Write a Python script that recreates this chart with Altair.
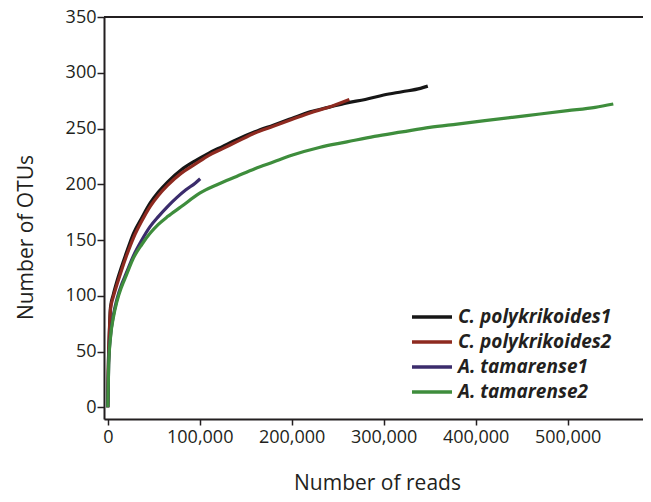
import altair as alt
import pandas as pd

names = ["C. polykrikoides1", "C. polykrikoides2", "A. tamarense1", "A. tamarense2"]
colors = ["#161616", "#8e2a20", "#3b2c6c", "#3e8d3c"]

cp1_x = [0, 500, 1500, 3000, 6000, 10000, 15000, 20000, 28000, 37000, 46000, 55000, 65000, 80000, 95000,
         110000, 125000, 140000, 160000, 180000, 200000, 220000, 240000, 260000, 280000, 300000, 320000, 340000, 348000]
cp1_y = [0, 32, 62, 90, 101, 113, 126, 138, 156, 170, 183, 193, 202, 213, 221,
         228, 234, 240, 247, 253, 259, 265, 269, 273, 276, 280, 283, 286, 288]

cp2_x = [0, 500, 1500, 3000, 6000, 10000, 15000, 20000, 28000, 37000, 46000, 55000, 65000, 80000, 95000,
         110000, 125000, 140000, 160000, 180000, 200000, 220000, 240000, 262700]
cp2_y = [0, 30, 60, 88, 99, 110, 123, 135, 152, 167, 180, 190, 199, 210, 218,
         226, 232, 238, 246, 252, 258, 264, 269, 276]

at1_x = [0, 1000, 3000, 6000, 10000, 15000, 20000, 28000, 37000, 46000, 55000, 65000, 75000, 85000, 95000, 100500]
at1_y = [0, 40, 64, 82, 97, 110, 120, 136, 150, 162, 171, 180, 188, 195, 201, 205]

at2_x = [0, 1000, 3000, 6000, 10000, 15000, 20000, 28000, 37000, 46000, 55000, 65000, 80000, 100000, 120000,
         140000, 160000, 180000, 200000, 230000, 260000, 290000, 320000, 350000, 380000, 410000, 440000,
         470000, 500000, 530000, 549700]
at2_y = [0, 38, 63, 80, 95, 108, 118, 134, 146, 156, 164, 171, 180, 192, 200,
         207, 214, 220, 226, 233, 238, 243, 247, 251, 254, 257, 260, 263, 266, 269, 272]

x_ticks = [0, 100000, 200000, 300000, 400000, 500000]
y_ticks = [0, 50, 100, 150, 200, 250, 300, 350]

rows = []
for name, xs, ys in zip(names, [cp1_x, cp2_x, at1_x, at2_x], [cp1_y, cp2_y, at1_y, at2_y]):
    for i, (a, b) in enumerate(zip(xs, ys)):
        rows.append({"sample": name, "reads": a, "otus": b, "i": i})
df = pd.DataFrame(rows)

font = "Open Sans"
dark = "#231f20"

xscale = alt.Scale(domain=[-4100, 582000], nice=False, zero=False)
yscale = alt.Scale(domain=[-10.5, 350], nice=False, zero=False)

lines = alt.Chart(df).mark_line(strokeWidth=3.2, interpolate="monotone").encode(
    x=alt.X("reads:Q", scale=xscale,
            axis=alt.Axis(values=x_ticks, format=",.0f", title="Number of reads", grid=False,
                          domainColor=dark, domainWidth=2, tickColor=dark, tickWidth=1.5, tickSize=6,
                          labelFontSize=18, labelFont=font, labelColor=dark, labelPadding=3,
                          titleFont=font, titleFontSize=21, titleFontWeight="normal", titleColor=dark,
                          titlePadding=26, titleX=273)),
    y=alt.Y("otus:Q", scale=yscale,
            axis=alt.Axis(values=y_ticks, title="Number of OTUs", grid=False,
                          domainColor=dark, domainWidth=2, tickColor=dark, tickWidth=1.5, tickSize=7,
                          labelFontSize=18, labelFont=font, labelColor=dark, labelPadding=1,
                          titleFont=font, titleFontSize=21, titleFontWeight="normal", titleColor=dark,
                          titlePadding=29, titleY=220)),
    color=alt.Color("sample:N", scale=alt.Scale(domain=names, range=colors),
                    legend=alt.Legend(title=None, orient="none", legendX=316, legendY=288,
                                      symbolType="M-2,0H2", symbolSize=400, symbolStrokeWidth=3.5,
                                      labelFont=font, labelFontSize=19, labelFontStyle="italic",
                                      labelFontWeight="bold", labelColor=dark, labelOffset=14,
                                      labelLimit=400, rowPadding=3)),
    order="i:Q",
)

top = alt.Chart(pd.DataFrame({"v": [350]})).mark_rule(color=dark, strokeWidth=2).encode(
    y=alt.Y("v:Q", scale=yscale)
)

chart = alt.layer(lines, top).properties(
    width=539, height=402,
    padding={"left": 96, "top": 9, "right": 0, "bottom": 80},
    autosize=alt.AutoSizeParams(type="none"),
).configure_view(stroke=None).configure(background="white")

chart.save("out.html", embed_options={"renderer": "svg", "actions": False})
